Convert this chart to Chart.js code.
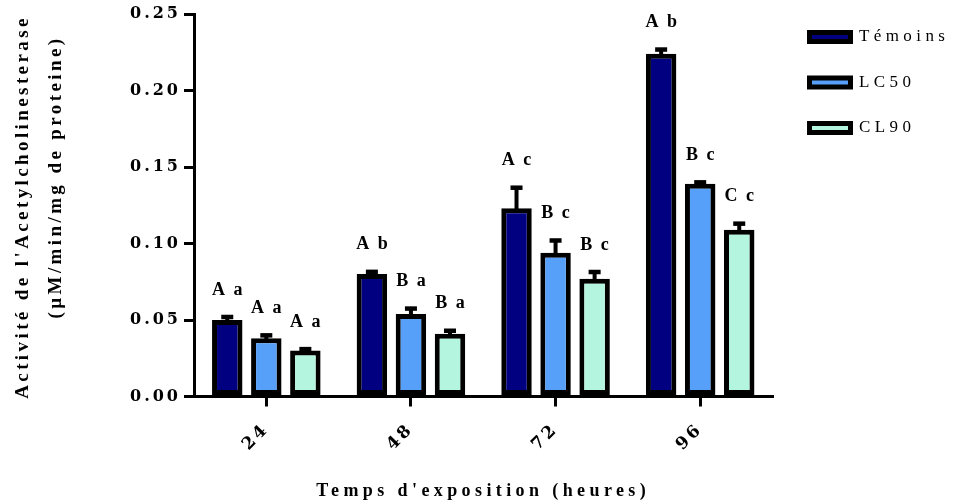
<!DOCTYPE html>
<html><head><meta charset="utf-8">
<script src="https://cdn.jsdelivr.net/npm/chart.js@4"></script>
<style>html,body{margin:0;padding:0;background:#fff}</style>
</head><body>
<canvas id="c" width="966" height="504"></canvas>
<script>
// ---- data ----
const categories = ['24', '48', '72', '96'];
const seriesNames = ['Témoins', 'LC50', 'CL90'];
const temoins = [0.050, 0.080, 0.123, 0.224];
const lc50 = [0.038, 0.054, 0.094, 0.139];
const cl90 = [0.030, 0.041, 0.077, 0.109];
const temoinsErr = [0.002, 0.0015, 0.0135, 0.0028];
const lc50Err = [0.002, 0.0035, 0.008, 0.001];
const cl90Err = [0.001, 0.002, 0.0044, 0.004];
const temoinsLetters = ['A a', 'A b', 'A c', 'A b'];
const lc50Letters = ['A a', 'B a', 'B c', 'B c'];
const cl90Letters = ['A a', 'B a', 'B c', 'C c'];
const yTicks = [0, 0.05, 0.10, 0.15, 0.20, 0.25];
const xTitle = "Temps d'exposition (heures)";
const yTitle = ["Activité de l'Acetylcholinesterase", "(µM/min/mg de proteine)"];

const colors = ['#000080', '#56A0FA', '#B3F5DE'];
const errs = [temoinsErr, lc50Err, cl90Err];
const letters = [temoinsLetters, lc50Letters, cl90Letters];

const spacing = {
  id: 'spacing',
  afterInit(c) {
    const lg = c.legend;
    if (lg && !lg._patched) {
      const orig = lg.fit.bind(lg);
      lg.fit = function () { orig(); this.width = 185; };
      lg._patched = true;
    }
  },
  beforeLayout(c) { c.ctx.letterSpacing = '4.4px'; },
  beforeDraw(c) { c.ctx.letterSpacing = '4.4px'; }
};

const errPlugin = {
  id: 'errs',
  afterDatasetsDraw(chart) {
    const ctx = chart.ctx, y = chart.scales.y;
    chart.data.datasets.forEach((ds, di) => {
      const meta = chart.getDatasetMeta(di);
      meta.data.forEach((bar, i) => {
        const v = ds.data[i];
        const top = y.getPixelForValue(v);
        const eTop = y.getPixelForValue(v + errs[di][i]);
        ctx.save();
        ctx.fillStyle = '#000';
        ctx.fillRect(bar.x - 2, eTop, 4, top - eTop + 3);
        ctx.fillRect(bar.x - 6, eTop - 2.2, 12, 4.5);
        ctx.font = 'bold 18px "Liberation Serif"';
        ctx.letterSpacing = '2px';
        ctx.textAlign = 'center';
        ctx.textBaseline = 'middle';
        ctx.fillText(letters[di][i], bar.x + 1, eTop - 27);
        ctx.restore();
      });
    });
    // tick labels (drawn on a later layer) use tighter spacing
    ctx.letterSpacing = '3px';
  }
};

const yTitlePlugin = {
  id: 'ytitle',
  afterDraw(chart) {
    const ctx = chart.ctx;
    const pos = [[23, 207], [56, 177]];
    yTitle.forEach((t, k) => {
      ctx.save();
      ctx.font = 'bold 19px "Liberation Serif"';
      ctx.letterSpacing = '3.4px';
      ctx.fillStyle = '#000';
      ctx.textAlign = 'center';
      ctx.textBaseline = 'middle';
      ctx.translate(pos[k][0], pos[k][1]);
      ctx.rotate(-Math.PI / 2);
      ctx.fillText(t, 0, 0);
      ctx.restore();
    });
  }
};

const seriesData = [temoins, lc50, cl90];
new Chart(document.getElementById('c'), {
  type: 'bar',
  data: {
    labels: categories,
    datasets: seriesNames.map((n, k) => ({
      label: n,
      data: seriesData[k],
      backgroundColor: colors[k],
      borderColor: '#000',
      borderWidth: 5,
      borderSkipped: false,
      categoryPercentage: 0.81,
      barPercentage: 0.78
    }))
  },
  options: {
    responsive: false,
    devicePixelRatio: 1,
    animation: false,
    layout: { padding: { top: 0, right: 0, bottom: 0, left: 0 } },
    plugins: {
      tooltip: { enabled: false },
      legend: {
        position: 'right',
        align: 'start',
        labels: {
          boxWidth: 41,
          boxHeight: 9,
          padding: 28.5,
          color: '#000',
          font: { family: '"Liberation Serif"', size: 17 }
        }
      }
    },
    scales: {
      x: {
        offset: true,
        grid: { display: true, offset: false, drawOnChartArea: false, drawTicks: true, tickLength: 10, lineWidth: 3, color: '#000' },
        border: { display: true, width: 3, color: '#000' },
        ticks: { z: 1, color: '#000', minRotation: 45, maxRotation: 45, padding: 13, font: { family: '"DejaVu Serif"', weight: 'bold', size: 17 } },
        title: { display: true, text: xTitle, color: '#000', padding: { top: 0, bottom: 2 }, font: { family: '"Liberation Serif"', weight: 'bold', size: 18 } },
        afterFit: s => { s.height = 107.5; }
      },
      y: {
        min: 0, max: 0.25,
        grid: { display: true, drawOnChartArea: false, drawTicks: true, tickLength: 10, lineWidth: 3, color: '#000' },
        border: { display: true, width: 3, color: '#000' },
        ticks: { z: 1, color: '#000', padding: 3, font: { family: '"DejaVu Serif"', weight: 'bold', size: 16 }, callback: v => v.toFixed(2) },
        afterBuildTicks: s => { s.ticks = yTicks.map(v => ({ value: v })); },
        afterFit: s => { s.width = 194; }
      },
      gap: {
        type: 'linear', position: 'right', display: true,
        grid: { display: false }, border: { display: false }, ticks: { display: false },
        afterFit: s => { s.width = 8.5; }
      },
      gapTop: {
        type: 'linear', position: 'top', display: true,
        grid: { display: false }, border: { display: false }, ticks: { display: false },
        afterFit: s => { s.height = 14; }
      }
    }
  },
  plugins: [spacing, errPlugin, yTitlePlugin]
});
</script>
</body></html>
